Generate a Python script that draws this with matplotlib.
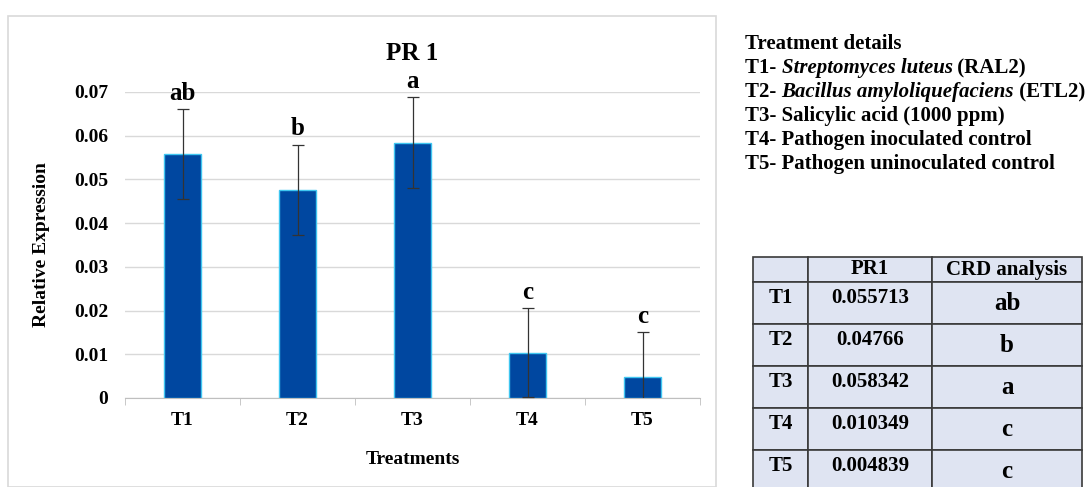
import matplotlib
matplotlib.use("Agg")
import matplotlib.pyplot as plt
from matplotlib.patches import Rectangle

plt.rcParams['font.family'] = ['Liberation Serif', 'DejaVu Serif']

categories = ["T1", "T2", "T3", "T4", "T5"]
means = [0.055713, 0.04766, 0.058342, 0.010349, 0.004839]
errors = [0.0103, 0.0103, 0.0104, 0.0102, 0.0102]
letters = ["ab", "b", "a", "c", "c"]
yticks = [0, 0.01, 0.02, 0.03, 0.04, 0.05, 0.06, 0.07]
ytick_labels = ["0", "0.01", "0.02", "0.03", "0.04", "0.05", "0.06", "0.07"]

fig = plt.figure(figsize=(10.89, 4.87), dpi=100)

# chart frame
fig.patches.append(Rectangle((8/1089, 0.0), 708/1089, 1 - 16/487, transform=fig.transFigure,
                             fill=False, edgecolor="#d9d9d9", linewidth=1.2))

ax = fig.add_axes([125/1089, 89/487, 575/1089, 306/487])
x = list(range(len(categories)))
ax.bar(x, means, width=0.32, color="#0047A0", edgecolor="#3fc6f0", linewidth=1.0, zorder=3)
ax.errorbar(x, means, yerr=errors, fmt="none", ecolor="#333333", elinewidth=0.9,
            capsize=4, capthick=0.9, zorder=4)
for xi, m, e, l in zip(x, means, errors, letters):
    ax.annotate(l, (xi, m + e), xytext=(0, 3), textcoords="offset points",
                ha="center", va="bottom", fontsize=18, fontweight="bold",
                annotation_clip=False)

ax.set_xlim(-0.5, len(categories) - 0.5)
ax.set_ylim(0, 0.07)
ax.set_yticks(yticks)
ax.set_yticklabels(ytick_labels, fontsize=14, fontweight="bold")
ax.set_xticks(x)
ax.set_xticklabels(categories, fontsize=14, fontweight="bold")
ax.tick_params(axis="x", length=0, pad=10)
ax.set_xticks([i - 0.5 for i in range(len(categories) + 1)], minor=True)
ax.tick_params(axis="x", which="minor", length=5, color="#bfbfbf")
ax.tick_params(axis="y", length=0, pad=12)
ax.grid(axis="y", color="#d9d9d9", linewidth=1.0, zorder=0)
for s in ["top", "right", "left"]:
    ax.spines[s].set_visible(False)
ax.spines["bottom"].set_color("#bfbfbf")
ax.set_ylabel("Relative Expression", fontsize=14, fontweight="bold", labelpad=17)
ax.set_xlabel("Treatments", fontsize=14, fontweight="bold", labelpad=16)
ax.set_title("PR 1", fontsize=18, fontweight="bold", pad=23)

# Treatment details
fs = 15
y0 = 1 - 44/487
dy = 24/487
fig.text(745/1089, y0, "Treatment details", fontsize=fs, fontweight="bold", va="center")
details = [
    ("T1- ", "Streptomyces luteus", " (RAL2)"),
    ("T2- ", "Bacillus amyloliquefaciens", " (ETL2)"),
    ("T3- Salicylic acid (1000 ppm)", "", ""),
    ("T4- Pathogen inoculated control", "", ""),
    ("T5- Pathogen uninoculated control", "", ""),
]
fig.canvas.draw()
renderer = fig.canvas.get_renderer()
for i, (a, b, c) in enumerate(details):
    yy = y0 - (i + 1) * dy
    t1 = fig.text(745/1089, yy, a, fontsize=fs, fontweight="bold", va="center")
    if b:
        bb = t1.get_window_extent(renderer)
        t2 = fig.text(bb.x1/1089, yy, b, fontsize=fs, fontweight="bold", style="italic", va="center")
        bb2 = t2.get_window_extent(renderer)
        fig.text(bb2.x1/1089, yy, c, fontsize=fs, fontweight="bold", va="center")

# Table
col_headers = ["", "PR1", "CRD analysis"]
cell_text = [[c, str(m), l] for c, m, l in zip(categories, means, letters)]
col_edges = [753, 808, 932, 1082]
tab_ax = fig.add_axes([0, 0, 1, 1], facecolor="none")
tab_ax.set_xlim(0, 1089)
tab_ax.set_ylim(487, 0)
tab_ax.axis("off")
heights = [25] + [42] * len(cell_text)
rows = [col_headers] + cell_text
ytop = 257
for r, row in enumerate(rows):
    h = heights[r]
    for c, txt in enumerate(row):
        xl, xr = col_edges[c], col_edges[c + 1]
        tab_ax.add_patch(Rectangle((xl, ytop), xr - xl, h, facecolor="#dfe4f2",
                                   edgecolor="#3a3a3a", linewidth=1.2, clip_on=False))
        if r == 0:
            size = 15
            yc = ytop + h / 2
        elif c == 2:
            size = 18
            yc = ytop + h / 2
        else:
            size = 15
            yc = ytop + h / 2 - 5
        tab_ax.text((xl + xr) / 2, yc, txt, ha="center", va="center",
                    fontsize=size, fontweight="bold")
    ytop += h

fig.savefig("out.png", dpi=100)
